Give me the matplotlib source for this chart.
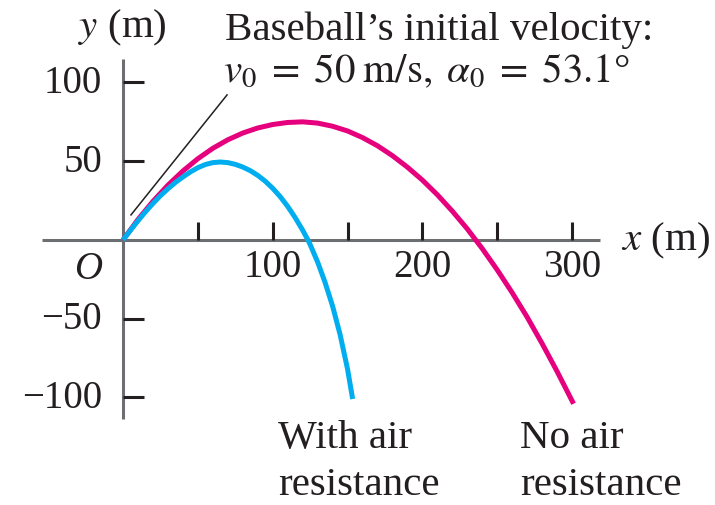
import matplotlib
matplotlib.use('Agg')
import matplotlib.pyplot as plt

# trajectory points (metres)
no_air_x = [0, 10, 20, 30, 40, 50, 60, 70, 80, 90, 100, 110, 120, 130, 140, 150, 160, 170, 180, 190,
            200, 210, 220, 230, 240, 250, 260, 270, 280, 290, 301]
no_air_y = [0, 13.0, 24.5, 34.8, 43.8, 51.6, 58.2, 63.6, 67.9, 71.1, 73.3, 74.6, 75.0, 74.2, 72.2, 69.2,
            65.0, 59.8, 53.5, 46.2, 38.0, 28.7, 18.3, 7.0, -5.5, -19.0, -33.5, -49.0, -65.8, -83.5, -104.0]
air_x = [0, 5, 10, 15, 20, 25, 30, 35, 40, 45, 50, 55, 60, 65, 70, 75, 80, 85, 90, 95, 100, 105, 110,
         115, 120, 123.5, 125, 130, 135, 140, 145, 150, 153.4]
air_y = [0, 6.2, 12.2, 17.9, 23.2, 28.1, 32.5, 36.5, 40.0, 43.2, 45.9, 47.9, 49.1, 49.5, 49.1, 48.0,
         46.3, 44.0, 41.0, 37.3, 32.8, 27.5, 21.3, 14.2, 6.2, 0, -2.9, -14.0, -27.0, -42.0, -60.0, -82.0, -101.0]

x_ticks = [50, 100, 150, 200, 250, 300]
x_labels = {100: '100', 200: '200', 300: '300'}
y_ticks = [100, 50, -50, -100]
y_labels = ['100', '50', '\u221250', '\u2212100']

PINK = '#E6007E'
CYAN = '#00AEEF'
AXIS = '#6D6E71'
INK = '#231F20'

plt.rcParams.update({'font.family': 'Liberation Serif', 'mathtext.fontset': 'stix'})
FS = 28      # numbers
FT = 29.5    # words

fig = plt.figure(figsize=(7.15, 5.06), dpi=100, facecolor='white')
ax = fig.add_axes([0, 0, 1, 1])
ax.set_xlim(-82.2, 395.5)
ax.set_ylim(-168.3, 153.0)
ax.axis('off')

# axes
ax.plot([-54, 318.6], [0, 0], color=AXIS, lw=2.2, solid_capstyle='butt', zorder=1)
ax.plot([0, 0], [114.9, -113.7], color=AXIS, lw=2.2, solid_capstyle='butt', zorder=1)
ax.vlines(x_ticks, 0, 11.4, color=INK, lw=2.2, zorder=1)
ax.hlines(y_ticks, 0, 14, color=INK, lw=2.2, zorder=1)

for v, s in x_labels.items():
    ax.text(v, -17, s, ha='center', va='center', fontsize=FS, color=INK)
for v, s in zip(y_ticks, y_labels):
    ax.text(-14, v, s, ha='right', va='center', fontsize=FS, color=INK)
ax.text(-14, -18.4, 'O', ha='right', va='center', fontsize=FS, color=INK, style='italic')

ax.text(333, 0, r'$x$ (m)', ha='left', va='center', fontsize=FT, color=INK)
ax.text(-30, 135, r'$y$ (m)', ha='left', va='center', fontsize=FT, color=INK)

# curves
ax.plot(no_air_x, no_air_y, color=PINK, lw=3.6, solid_capstyle='butt', solid_joinstyle='round', zorder=3)
ax.plot(air_x, air_y, color=CYAN, lw=3.6, solid_capstyle='butt', solid_joinstyle='round', zorder=4)

# annotation
ax.plot([5.3, 69.5], [15.9, 92.1], color=INK, lw=1.1, zorder=2)
ax.text(68, 127.6, 'Baseball\u2019s initial velocity:', ha='left', va='baseline', fontsize=FT, color=INK)
ax.text(66.8, 101, r'$v_0\;=\;50\;\mathrm{m/s},\;\alpha_0\;=\;53.1$°', ha='left', va='baseline',
        fontsize=FT, color=INK)

ax.text(103.5, -131.5, 'With air', ha='left', va='baseline', fontsize=FT, color=INK)
ax.text(103.5, -161.5, 'resistance', ha='left', va='baseline', fontsize=FT, color=INK)
ax.text(265.2, -131.5, 'No air', ha='left', va='baseline', fontsize=FT, color=INK)
ax.text(265.2, -161.5, 'resistance', ha='left', va='baseline', fontsize=FT, color=INK)

fig.savefig('out.png', dpi=100, facecolor='white')
